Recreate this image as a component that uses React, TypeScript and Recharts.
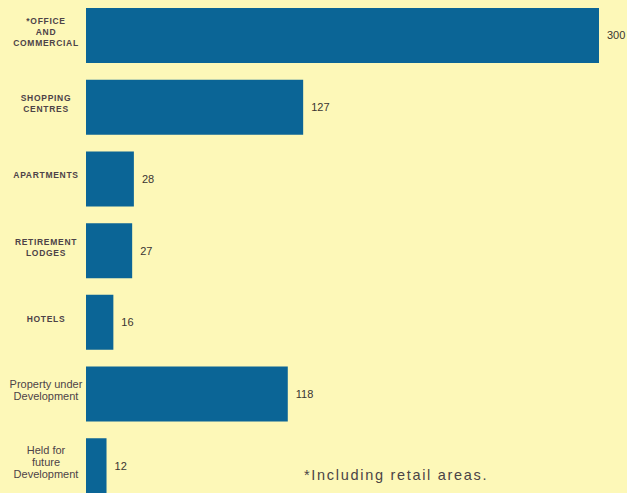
import { BarChart, Bar, XAxis, YAxis, LabelList } from 'recharts'

const categories = [
  '*OFFICE\nAND\nCOMMERCIAL',
  'SHOPPING\nCENTRES',
  'APARTMENTS',
  'RETIREMENT\nLODGES',
  'HOTELS',
  'Property under\nDevelopment',
  'Held for\nfuture\nDevelopment',
]
const values = [300, 127, 28, 27, 16, 118, 12]

const data = categories.map((name, i) => ({ name, value: values[i] }))

const BG = '#fdf8b8'
const BAR = '#0b6596'
const INK = '#4d4348'

function CategoryTick({ x, y, payload }: any) {
  const lines: string[] = String(payload.value).split('\n')
  const upper = lines.every(l => l === l.toUpperCase())
  const lh = upper ? 11 : 12
  const cx = x - 32
  const top = y - 4 - ((lines.length - 1) * lh) / 2
  return (
    <text
      textAnchor="middle"
      fill={INK}
      fontFamily="'Liberation Sans', Arial, sans-serif"
      fontSize={upper ? 8.5 : 11}
      fontWeight={upper ? 'bold' : 'normal'}
      letterSpacing={upper ? 0.7 : 0}
    >
      {lines.map((l, i) => (
        <tspan key={i} x={cx} y={top + i * lh} dominantBaseline="central">{l}</tspan>
      ))}
    </text>
  )
}

export default function App() {
  return (
    <div style={{ position: 'fixed', left: 0, top: 0, width: 627, height: 493, overflow: 'hidden', background: BG }}>
      <BarChart
        width={627}
        height={502}
        data={data}
        layout="vertical"
        margin={{ top: 0, right: 28, left: 0, bottom: 0 }}
      >
        <XAxis type="number" domain={[0, 300]} hide />
        <YAxis
          type="category"
          dataKey="name"
          width={86}
          axisLine={false}
          tickLine={false}
          interval={0}
          tick={<CategoryTick />}
        />
        <Bar dataKey="value" fill={BAR} barSize={55} isAnimationActive={false}>
          <LabelList
            dataKey="value"
            position="right"
            offset={8}
            fill="#3a3532"
            fontSize={11}
            fontFamily="'Liberation Sans', Arial, sans-serif"
          />
        </Bar>
      </BarChart>
      <div
        style={{
          position: 'absolute',
          left: 304,
          top: 467,
          fontFamily: "'Liberation Sans', Arial, sans-serif",
          fontSize: 14.5,
          letterSpacing: 1.7,
          color: '#4a4446',
          whiteSpace: 'nowrap',
        }}
      >
        *Including retail areas.
      </div>
    </div>
  )
}
